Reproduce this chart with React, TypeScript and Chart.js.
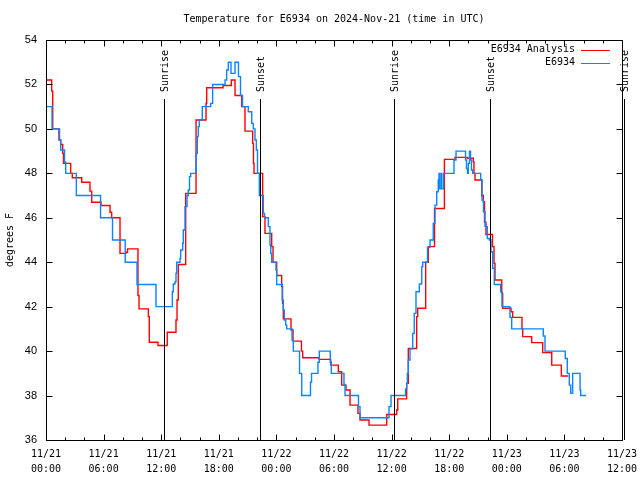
import React, { useEffect, useRef } from 'react';
import { Chart, registerables } from 'chart.js';

Chart.register(...registerables);

const TITLE = 'Temperature for E6934 on 2024-Nov-21 (time in UTC)';
const Y_TITLE = 'degrees F';
const SERIES_NAMES = ['E6934 Analysis', 'E6934'];
const SERIES_COLORS = ['#ff0000', '#0a84ff'];
const MONTH = 11;
const START_DAY = 21;

// hours since 11/21 00:00 UTC
const analysisHours = [
  0, 0.59, 0.7, 1.35, 1.53, 1.74, 1.82, 2.57, 2.74, 3.72, 4.58, 4.76, 5.73, 6.67, 6.84, 7.71, 8.33, 8.49,
  9.58, 9.69, 10.66, 10.76, 11.67, 12.63, 13.54, 13.65, 13.78, 14.55, 15.63, 16.67, 16.74, 18.44, 19.3,
  19.69, 20.39, 20.73, 21.53, 21.61, 21.67, 22.57, 22.81, 23.51, 23.65, 24.03, 24.55, 24.64, 24.72, 25.52,
  25.73, 26.61, 26.74, 28.44, 29.66, 30.45, 30.8, 31.25, 31.67, 32.5, 32.71, 33.65, 35.49, 36.53, 36.64,
  37.57, 37.74, 38.61, 38.72, 39.55, 39.82, 40.47, 41.5, 42.6, 43.89, 44.51, 44.58, 44.69, 45.39, 45.55,
  45.68, 45.83, 46.51, 46.67, 46.77, 47.47, 47.57, 48.44, 48.61, 49.58, 49.66, 50.59, 51.74, 52.68, 53.68,
  54.41,
];
const analysisTemps = [
  52.2, 51.7, 50.0, 49.5, 49.3, 48.9, 48.45, 48.0, 47.8, 47.6, 47.2, 46.7, 46.55, 46.25, 46.0, 44.4, 44.45, 44.6,
  42.5, 41.9, 41.55, 40.4, 40.25, 40.85, 41.4, 42.3, 43.9, 47.1, 50.4, 51.15, 51.85, 51.95, 52.2,
  51.5, 51.0, 49.9, 49.35, 48.45, 48.0, 46.05, 45.3, 44.7, 44.0, 43.4, 42.9, 42.15, 41.45, 40.95,
  40.45, 40.0, 39.7, 39.63, 39.37, 39.07, 38.47, 38.25, 37.57, 37.2, 36.9, 36.67, 37.15, 37.35, 37.85,
  38.55, 40.12, 41.55, 41.93, 44.0, 44.7, 46.42, 48.63, 48.72, 48.68, 48.52, 48.0, 47.7, 47.0, 46.72,
  45.8, 45.25, 44.7, 43.95, 43.2, 42.6, 41.93, 41.77, 41.52, 41.0, 40.65, 40.38, 39.93, 39.37, 38.88,
  38.88,
];

const obsHours = [
  0, 0.63, 1.41, 1.53, 1.93, 2.05, 3.16, 5.68, 6.93, 8.25, 9.48, 11.46, 13.16, 13.26, 13.44, 13.54, 13.61,
  13.96, 14.03, 14.24, 14.3, 14.48, 14.69, 14.82, 14.95, 15.07, 15.63, 15.76, 15.86, 15.97, 16.28, 17.16,
  17.36, 18.65, 18.82, 18.99, 19.27, 19.69, 20.05, 20.26, 20.47, 21.07, 21.43, 21.59, 21.77, 21.91, 22.03,
  22.22, 22.64, 22.76, 23.16, 23.33, 23.41, 23.51, 23.96, 24.03, 24.61, 24.72, 24.82, 24.97, 25.07, 25.63,
  25.76, 26.41, 26.64, 27.55, 27.66, 28.33, 28.47, 29.61, 29.72, 31.04, 31.15, 32.55, 32.71, 35.73, 35.94,
  37.45, 37.57, 37.64, 37.74, 37.92, 38.2, 38.36, 38.54, 38.89, 39.14, 39.24, 39.74, 40.0, 40.34, 40.52,
  40.7, 40.86, 40.94, 40.99, 41.15, 41.22, 41.41, 42.5, 42.71, 43.7, 43.8, 43.91, 43.99, 44.11, 44.22,
  44.32, 44.45, 45.28, 45.42, 45.57, 45.73, 45.97, 46.18, 46.35, 46.53, 46.7, 47.36, 47.5, 48.33, 48.51,
  51.8, 51.98, 54.09, 54.3, 54.51, 54.66, 54.86, 55.63, 55.7, 56.25,
];
const obsTemps = [
  51.0, 50.0, 49.5, 49.05, 48.5, 48.0, 47.0, 46.0, 45.0, 44.0, 43.0, 42.0, 42.67, 43.02, 43.12, 43.5, 44.0,
  44.17, 44.55, 44.85, 45.45, 46.5, 47.0, 47.25, 47.85, 48.0, 48.9, 49.65, 50.1, 50.4, 51.0, 51.15,
  52.0, 52.2, 52.65, 53.0, 52.5, 53.0, 52.35, 51.5, 51.0, 50.77, 50.25, 50.0, 49.5, 49.05, 48.0,
  47.0, 46.2, 46.0, 45.6, 44.77, 44.4, 44.0, 43.65, 43.0, 42.3, 41.85, 41.4, 41.17, 41.0, 40.5,
  40.0, 39.0, 38.0, 38.6, 39.0, 39.5, 40.0, 39.5, 39.0, 38.5, 38.0, 37.5, 37.0, 37.5, 38.0,
  38.3, 38.55, 39.0, 39.6, 40.1, 40.8, 41.7, 42.67, 43.02, 43.8, 44.0, 44.67, 45.0, 45.75, 46.57,
  47.17, 47.7, 48.0, 47.3, 48.0, 47.3, 48.0, 48.6, 49.0, 48.6, 48.2, 48.0, 48.45, 49.0, 48.6,
  48.15, 48.0, 47.7, 46.8, 46.27, 45.6, 45.07, 45.0, 44.47, 43.73, 43.0, 42.67, 42.0, 41.52, 41.0,
  40.68, 40.0, 39.67, 39.0, 38.47, 38.1, 39.0, 38.25, 38.0, 38.0,
];

const sunEventHours = [12.32, 22.29, 36.28, 46.28, 60.21];
const sunEventNames = ['Sunrise', 'Sunset', 'Sunrise', 'Sunset', 'Sunrise'];

const xMajorHours = [0, 6, 12, 18, 24, 30, 36, 42, 48, 54, 60];
const xMinorHours = [2, 4, 8, 10, 14, 16, 20, 22, 26, 28, 32, 34, 38, 40, 44, 46, 50, 52, 56, 58];
const yTickValues = [36, 38, 40, 42, 44, 46, 48, 50, 52, 54];

const MONO = '"DejaVu Sans Mono", monospace';
const SANS = '"Liberation Sans", Arial, sans-serif';

function pad2(n: number) {
  return n < 10 ? '0' + n : '' + n;
}
function hourLabel(h: number): string[] {
  const day = START_DAY + Math.floor(h / 24);
  const hh = Math.round(h % 24);
  return [MONTH + '/' + day, pad2(hh) + ':00'];
}

const framePlugin = {
  id: 'frame',
  afterDatasetsDraw(chart: any) {
    const { ctx, chartArea } = chart;
    const { left, right, top, bottom } = chartArea;
    const xs = chart.scales.x;
    const ys = chart.scales.y;
    ctx.save();
    ctx.strokeStyle = '#000';
    ctx.lineWidth = 1;
    ctx.beginPath();
    const L = Math.round(left) + 0.5, R = Math.round(right) + 0.5, T = Math.round(top) + 0.5, B = Math.round(bottom) + 0.5;
    ctx.rect(L, T, R - L, B - T);
    for (const v of yTickValues) {
      const y = Math.round(ys.getPixelForValue(v)) + 0.5;
      ctx.moveTo(L, y); ctx.lineTo(L + 6, y);
      ctx.moveTo(R, y); ctx.lineTo(R - 6, y);
    }
    const drawX = (h: number, len: number) => {
      const x = Math.round(xs.getPixelForValue(h)) + 0.5;
      ctx.moveTo(x, B); ctx.lineTo(x, B - len);
      ctx.moveTo(x, T); ctx.lineTo(x, T + len);
    };
    xMajorHours.forEach((h) => drawX(h, 6));
    xMinorHours.forEach((h) => drawX(h, 3));
    ctx.stroke();
    ctx.restore();
  },
};

const sunPlugin = {
  id: 'sun',
  afterDatasetsDraw(chart: any) {
    const { ctx, chartArea } = chart;
    const xs = chart.scales.x;
    ctx.save();
    ctx.strokeStyle = '#000';
    ctx.fillStyle = '#000';
    ctx.lineWidth = 1;
    ctx.font = '10px ' + MONO;
    sunEventHours.forEach((h, i) => {
      const x = Math.round(xs.getPixelForValue(h)) + 0.5;
      ctx.beginPath();
      ctx.moveTo(x, 99);
      ctx.lineTo(x, Math.round(chartArea.bottom));
      ctx.stroke();
      ctx.save();
      ctx.translate(x + 0.5, 92);
      ctx.rotate(-Math.PI / 2);
      ctx.textAlign = 'left';
      ctx.textBaseline = 'middle';
      ctx.fillText(sunEventNames[i], 0, 0);
      ctx.restore();
    });
    ctx.restore();
  },
};

const textPlugin = {
  id: 'texts',
  afterDraw(chart: any) {
    const { ctx, chartArea } = chart;
    ctx.save();
    ctx.fillStyle = '#000';
    ctx.font = '10px ' + MONO;
    ctx.textAlign = 'center';
    ctx.textBaseline = 'middle';
    ctx.fillText(TITLE, (chartArea.left + chartArea.right) / 2, 19);
    chart.data.datasets.forEach((ds: any, i: number) => {
      const y = 49.5 + i * 13;
      ctx.textAlign = 'right';
      ctx.fillStyle = '#000';
      ctx.fillText(ds.label, 575, y);
      ctx.strokeStyle = ds.borderColor;
      ctx.lineWidth = 1;
      ctx.beginPath();
      ctx.moveTo(581, Math.round(y) + 0.5);
      ctx.lineTo(610, Math.round(y) + 0.5);
      ctx.stroke();
    });
    ctx.restore();
  },
};

export default function App() {
  const ref = useRef<HTMLCanvasElement | null>(null);
  useEffect(() => {
    if (!ref.current) return;
    const chart = new Chart(ref.current, {
      type: 'line',
      data: {
        datasets: [
          {
            label: SERIES_NAMES[0],
            data: analysisHours.map((h, i) => ({ x: h, y: analysisTemps[i] })),
            borderColor: SERIES_COLORS[0],
            backgroundColor: SERIES_COLORS[0],
            borderWidth: 1.4,
            pointRadius: 0,
            stepped: 'before',
            fill: false,
            order: 2,
          },
          {
            label: SERIES_NAMES[1],
            data: obsHours.map((h, i) => ({ x: h, y: obsTemps[i] })),
            borderColor: SERIES_COLORS[1],
            backgroundColor: SERIES_COLORS[1],
            borderWidth: 1.4,
            pointRadius: 0,
            stepped: 'before',
            fill: false,
            order: 1,
          },
        ],
      },
      options: {
        responsive: false,
        animation: false,
        devicePixelRatio: 1,
        layout: { padding: { top: 40, right: 18, left: 0, bottom: 0 } },
        plugins: {
          legend: { display: false },
          title: { display: false },
          tooltip: { enabled: false },
        },
        scales: {
          x: {
            type: 'linear',
            min: 0,
            max: 60,
            grid: { display: false, drawTicks: false },
            border: { display: false },
            afterBuildTicks: (scale: any) => {
              scale.ticks = xMajorHours.map((v) => ({ value: v }));
            },
            afterFit: (scale: any) => {
              scale.height = 40;
              scale.paddingLeft = 0;
              scale.paddingRight = 0;
            },
            ticks: {
              autoSkip: false,
              maxRotation: 0,
              minRotation: 0,
              padding: 7,
              color: '#000',
              font: { family: MONO, size: 10, lineHeight: 1.5 },
              callback: (v: any) => hourLabel(Number(v)),
            },
          },
          y: {
            min: 36,
            max: 54,
            grid: { display: false, drawTicks: false },
            border: { display: false },
            afterBuildTicks: (scale: any) => {
              scale.ticks = yTickValues.map((v) => ({ value: v }));
            },
            afterFit: (scale: any) => {
              scale.width = 46;
              scale.paddingTop = 0;
              scale.paddingBottom = 0;
            },
            ticks: {
              padding: 9,
              color: '#000',
              font: { family: SANS, size: 11 },
            },
            title: {
              display: true,
              text: Y_TITLE,
              color: '#000',
              font: { family: MONO, size: 10 },
              padding: { top: 4, bottom: 0 },
            },
          },
        },
      },
      plugins: [framePlugin, sunPlugin, textPlugin],
    } as any);
    return () => chart.destroy();
  }, []);
  return (
    <div style={{ position: 'fixed', left: 0, top: 0, width: 640, height: 480, background: '#fff' }}>
      <canvas ref={ref} width={640} height={480} />
    </div>
  );
}
